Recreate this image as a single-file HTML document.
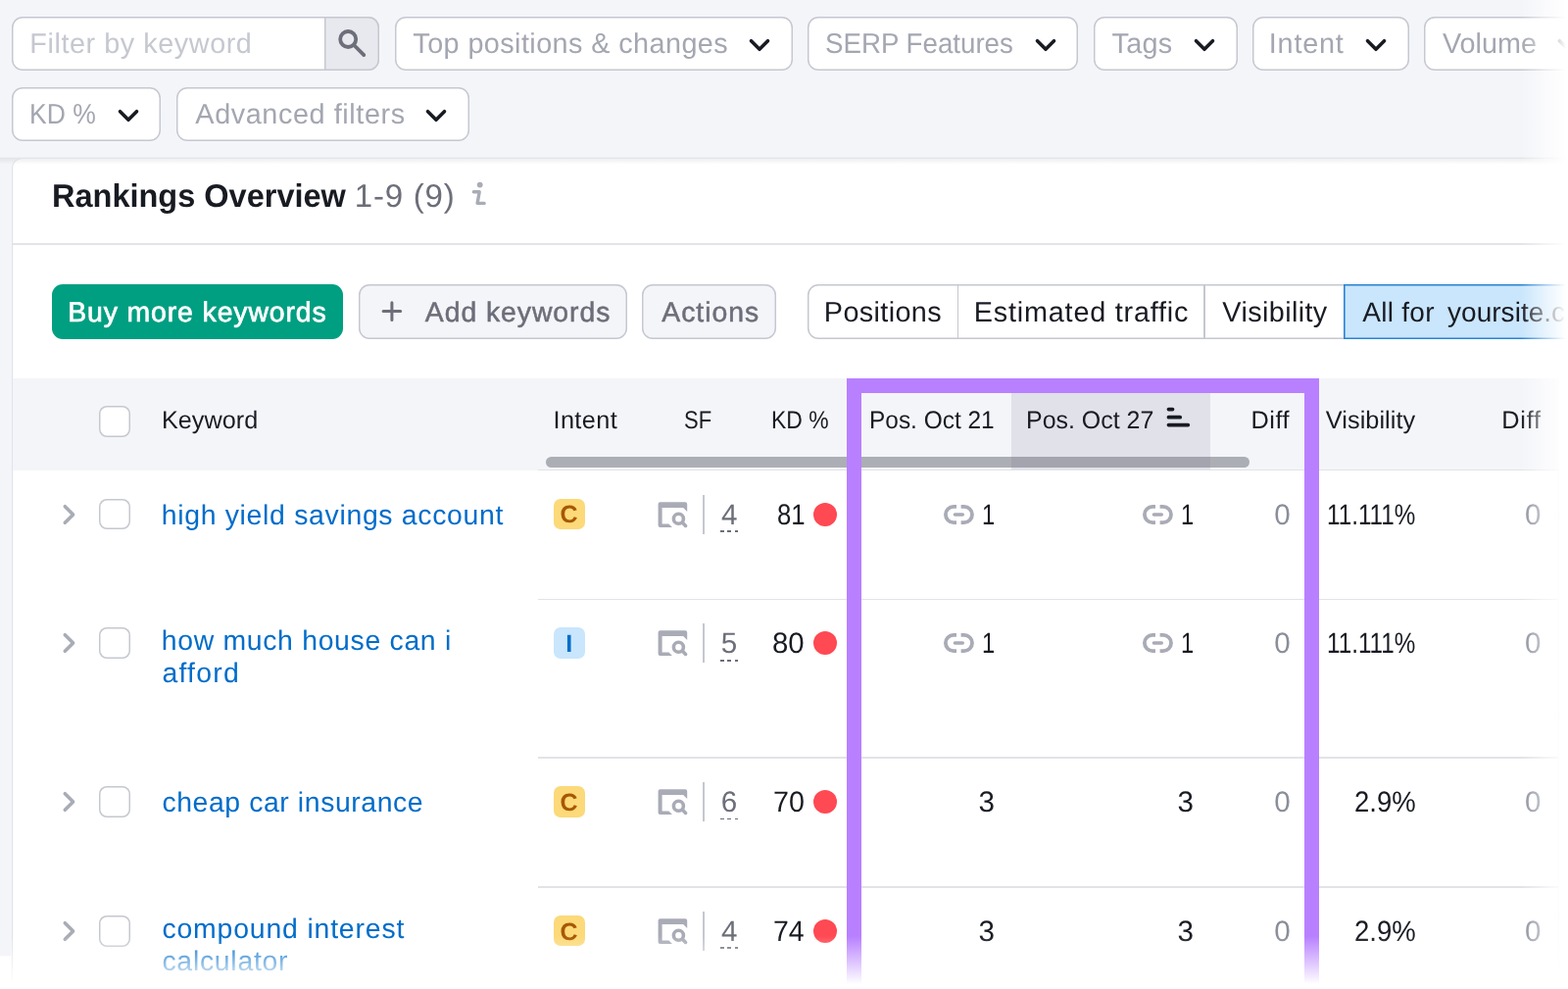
<!DOCTYPE html>
<html lang="en">
<head>
<meta charset="utf-8">
<title>Rankings Overview</title>
<style>
html,body{margin:0;padding:0;background:#fff;}
.app{position:relative;overflow:hidden;background:#f4f5f9;color:#191b23;font-family:"Liberation Sans",Arial,sans-serif;}
.a{position:absolute;box-sizing:border-box;}
h2{margin:0;font-weight:400;font-size:inherit;}
.t{position:absolute;line-height:1;white-space:pre;transform-origin:0 0;text-rendering:geometricPrecision;font-weight:400;}
.ic{position:absolute;overflow:visible;}
</style>
</head>
<body>
<div class="app" id="app" style="left:0px;top:0px;width:1600px;height:1009px;">
  <header class="filters">
    <div class="a search" style="left:12.3px;top:16.5px;width:374.3px;height:55.2px;background:#fff;border-radius:11px;box-shadow:inset 0 0 0 1.5px #c6c8d0;">
      <span class="t ph" style="left:18.05px;top:14.4px;font-size:28.8px;color:#c6c8d0;letter-spacing:0.556px;">Filter by keyword</span>
      <div class="a search-btn" style="left:318.9px;top:0px;width:55.4px;height:55.2px;background:#e8e9ee;border-radius:0 11px 11px 0;box-shadow:inset 0 0 0 1.5px #c6c8d0;">
        <svg class="ic " style="left:10.8px;top:10.5px" width="34" height="34" viewBox="342 27 34 34" aria-hidden="true"><circle cx="355.2" cy="40" r="8" stroke="#6c6e79" stroke-width="3.8" fill="none"/><path d="M361.2 46 L371.3 56.1" stroke="#6c6e79" stroke-width="3.8" stroke-linecap="round"/></svg>
      </div>
    </div>
    <div class="a filter" style="left:402.7px;top:16.5px;width:406.1px;height:55.2px;background:#fff;border-radius:11px;box-shadow:inset 0 0 0 1.5px #c6c8d0;">
      <span class="t" style="left:18.65px;top:14.4px;font-size:28.8px;color:#a4a6b1;letter-spacing:0.416px;">Top positions &amp; changes</span>
      <svg class="ic chev" style="left:361.6px;top:22.25px" width="22" height="15" viewBox="764.3 38.75 22 15" aria-hidden="true"><path d="M766.80 41.50 l8.5 8.5 l8.5 -8.5" stroke="#191b23" stroke-width="3.6" fill="none" stroke-linecap="round" stroke-linejoin="round"/></svg>
    </div>
    <div class="a filter" style="left:824.2px;top:16.5px;width:276.2px;height:55.2px;background:#fff;border-radius:11px;box-shadow:inset 0 0 0 1.5px #c6c8d0;">
      <span class="t" style="left:18.2px;top:14.4px;font-size:28.8px;color:#a4a6b1;transform:scaleX(0.9615);">SERP Features</span>
      <svg class="ic chev" style="left:231.7px;top:22.25px" width="22" height="15" viewBox="1055.9 38.75 22 15" aria-hidden="true"><path d="M1058.40 41.50 l8.5 8.5 l8.5 -8.5" stroke="#191b23" stroke-width="3.6" fill="none" stroke-linecap="round" stroke-linejoin="round"/></svg>
    </div>
    <div class="a filter" style="left:1115.5px;top:16.5px;width:147.1px;height:55.2px;background:#fff;border-radius:11px;box-shadow:inset 0 0 0 1.5px #c6c8d0;">
      <span class="t" style="left:19.1px;top:14.4px;font-size:28.8px;color:#a4a6b1;letter-spacing:0.250px;">Tags</span>
      <svg class="ic chev" style="left:102.6px;top:22.25px" width="22" height="15" viewBox="1218.1 38.75 22 15" aria-hidden="true"><path d="M1220.60 41.50 l8.5 8.5 l8.5 -8.5" stroke="#191b23" stroke-width="3.6" fill="none" stroke-linecap="round" stroke-linejoin="round"/></svg>
    </div>
    <div class="a filter" style="left:1277.7px;top:16.5px;width:160.1px;height:55.2px;background:#fff;border-radius:11px;box-shadow:inset 0 0 0 1.5px #c6c8d0;">
      <span class="t" style="left:17.15px;top:14.4px;font-size:28.8px;color:#a4a6b1;letter-spacing:0.780px;">Intent</span>
      <svg class="ic chev" style="left:115.6px;top:22.25px" width="22" height="15" viewBox="1393.3 38.75 22 15" aria-hidden="true"><path d="M1395.80 41.50 l8.5 8.5 l8.5 -8.5" stroke="#191b23" stroke-width="3.6" fill="none" stroke-linecap="round" stroke-linejoin="round"/></svg>
    </div>
    <div class="a filter" style="left:1453.2px;top:16.5px;width:180.1px;height:55.2px;background:#fff;border-radius:11px;box-shadow:inset 0 0 0 1.5px #c6c8d0;">
      <span class="t" style="left:19.15px;top:14.4px;font-size:28.8px;color:#a4a6b1;transform:scaleX(0.9989);">Volume</span>
      <svg class="ic chev" style="left:135.6px;top:22.25px" width="22" height="15" viewBox="1588.8 38.75 22 15" aria-hidden="true"><path d="M1591.30 41.50 l8.5 8.5 l8.5 -8.5" stroke="#191b23" stroke-width="3.6" fill="none" stroke-linecap="round" stroke-linejoin="round"/></svg>
    </div>
    <div class="a filter" style="left:12.2px;top:88.8px;width:152.2px;height:55.1px;background:#fff;border-radius:11px;box-shadow:inset 0 0 0 1.5px #c6c8d0;">
      <span class="t" style="left:17.58px;top:14.4px;font-size:28.8px;color:#a4a6b1;transform:scaleX(0.9203);">KD %</span>
      <svg class="ic chev" style="left:107.7px;top:22.2px" width="22" height="15" viewBox="119.9 111 22 15" aria-hidden="true"><path d="M122.40 113.75 l8.5 8.5 l8.5 -8.5" stroke="#191b23" stroke-width="3.6" fill="none" stroke-linecap="round" stroke-linejoin="round"/></svg>
    </div>
    <div class="a filter" style="left:179.9px;top:88.8px;width:298.9px;height:55.1px;background:#fff;border-radius:11px;box-shadow:inset 0 0 0 1.5px #c6c8d0;">
      <span class="t" style="left:19.45px;top:14.4px;font-size:28.8px;color:#a4a6b1;letter-spacing:0.593px;">Advanced filters</span>
      <svg class="ic chev" style="left:254.4px;top:22.2px" width="22" height="15" viewBox="434.3 111 22 15" aria-hidden="true"><path d="M436.80 113.75 l8.5 8.5 l8.5 -8.5" stroke="#191b23" stroke-width="3.6" fill="none" stroke-linecap="round" stroke-linejoin="round"/></svg>
    </div>
  </header>
  <main class="a panel" style="left:11.5px;top:162px;width:1628.5px;height:938px;background:#fff;box-shadow:inset 1.2px 0 0 #e2e3e9;border-top-left-radius:9px;">
    <div class="panel-head">
      <h2 class="a title" style="left:38.5px;top:18px;width:450px;height:45px;">
        <span class="t" style="left:3.08px;top:3.3px;font-size:33.0px;transform:scaleX(0.9849);font-weight:700;">Rankings Overview</span>
        <span class="t count" style="left:311.85px;top:3.3px;font-size:33.0px;color:#6c6e79;letter-spacing:0.775px;">1-9 (9)</span>
        <svg class="ic info" style="left:428px;top:2px" width="22" height="32" viewBox="478 182 22 32" aria-hidden="true"><circle cx="489.7" cy="188.6" r="2.9" fill="#a9abb6"/><path d="M483.4 195.7 H489.2 L487.1 207.4 H494.1" stroke="#a9abb6" stroke-width="3.4" fill="none" stroke-linecap="round" stroke-linejoin="round"/></svg>
      </h2>
      <div class="a rule" style="left:1px;top:86px;width:1587.5px;height:1.5px;background:#e3e4ea;"></div>
    </div>
    <div class="toolbar">
      <div class="a btn primary" style="left:41px;top:128px;width:297.5px;height:55.6px;background:#009f81;border-radius:11px;">
        <span class="t" style="left:16.65px;top:15px;font-size:28.4px;color:#fff;letter-spacing:0.894px;-webkit-text-stroke:0.7px #fff;">Buy more keywords</span>
      </div>
      <div class="a btn" style="left:354.3px;top:128px;width:274.5px;height:55.6px;background:#f4f5f9;border-radius:11px;box-shadow:inset 0 0 0 1.5px #c6c8d0;">
        <svg class="ic plus" style="left:20.2px;top:14px" width="27" height="27" viewBox="386 304 27 27" aria-hidden="true"><path d="M391.1 317.5 H408.7 M399.9 308.8 V326.4" stroke="#6c6e79" stroke-width="3" stroke-linecap="round"/></svg>
        <span class="t" style="left:68px;top:15px;font-size:28.4px;color:#6c6e79;letter-spacing:0.932px;-webkit-text-stroke:0.5px #6c6e79;">Add keywords</span>
      </div>
      <div class="a btn" style="left:643.8px;top:128px;width:137px;height:55.6px;background:#f4f5f9;border-radius:11px;box-shadow:inset 0 0 0 1.5px #c6c8d0;">
        <span class="t" style="left:20px;top:15px;font-size:28.4px;color:#6c6e79;letter-spacing:0.958px;-webkit-text-stroke:0.5px #6c6e79;">Actions</span>
      </div>
      <div class="a tabs" style="left:812px;top:128px;width:816.5px;height:55.6px;background:#fff;border-radius:11px;box-shadow:inset 0 0 0 1.5px #c6c8d0;">
        <div class="a tab" style="left:0px;top:0px;width:154px;height:55.6px;">
          <span class="t" style="left:17.35px;top:15.1px;font-size:28.8px;letter-spacing:0.362px;">Positions</span>
        </div>
        <div class="a sep" style="left:153.3px;top:0px;width:1.5px;height:55.6px;background:#c4c7cf;"></div>
        <div class="a tab" style="left:154px;top:0px;width:251.3px;height:55.6px;">
          <span class="t" style="left:16.35px;top:15.1px;font-size:28.8px;letter-spacing:0.791px;">Estimated traffic</span>
        </div>
        <div class="a sep" style="left:404.5px;top:0px;width:1.5px;height:55.6px;background:#c4c7cf;"></div>
        <div class="a tab" style="left:405.3px;top:0px;width:141.8px;height:55.6px;">
          <span class="t" style="left:18.55px;top:15.1px;font-size:28.8px;letter-spacing:0.378px;">Visibility</span>
        </div>
        <div class="a tab active" style="left:547.1px;top:-0.4px;width:269.4px;height:56.2px;background:#c9e6fc;box-shadow:inset 0 0 0 1.6px #2a82d2;">
          <span class="t" style="left:19.7px;top:15.6px;font-size:28.0px;letter-spacing:0.283px;">All for</span>
          <span class="t" style="left:106.45px;top:15.6px;font-size:28.0px;letter-spacing:0.029px;">yoursite.com</span>
        </div>
      </div>
    </div>
    <div class="table" role="table">
      <div class="a thead" role="row" style="left:1.5px;top:224px;width:1577px;height:94px;background:#f4f5f9;">
        <div class="a sorted" style="left:1019px;top:0px;width:202.5px;height:94px;background:#e0e1e9;"></div>
        <div class="a cb" style="left:88px;top:28.1px;width:31.6px;height:31.8px;background:#fff;border-radius:8px;box-shadow:inset 0 0 0 1.5px #c6c8d0;"></div>
        <span class="t th" style="left:151.71px;top:31.1px;font-size:25.3px;transform:scaleX(0.9974);">Keyword</span>
        <span class="t th" style="left:551.45px;top:31.1px;font-size:25.3px;letter-spacing:0.410px;">Intent</span>
        <span class="t th" style="left:684.81px;top:31.1px;font-size:25.3px;transform:scaleX(0.8700);">SF</span>
        <span class="t th" style="left:773.79px;top:31.1px;font-size:25.3px;transform:scaleX(0.9053);">KD %</span>
        <span class="t th" style="left:874.42px;top:31.1px;font-size:25.3px;transform:scaleX(0.9663);">Pos. Oct 21</span>
        <span class="t th" style="left:1034.38px;top:31.1px;font-size:25.3px;transform:scaleX(0.9857);">Pos. Oct 27</span>
        <span class="t th" style="left:1263.6px;top:31.1px;font-size:25.3px;letter-spacing:0.467px;">Diff</span>
        <span class="t th" style="left:1339.85px;top:31.1px;font-size:25.3px;letter-spacing:0.044px;">Visibility</span>
        <span class="t th" style="left:1519.35px;top:31.1px;font-size:25.3px;letter-spacing:0.717px;">Diff</span>
        <svg class="ic sort" style="left:1175px;top:27px" width="29" height="26" viewBox="1188 413 29 26" aria-hidden="true"><path d="M1192.5 417.6 H1196.5 M1192.5 425.7 H1204.2 M1192.5 433.6 H1212.3" stroke="#191b23" stroke-width="3.8" stroke-linecap="round"/></svg>
        <div class="a hscroll" style="left:543.5px;top:80.3px;width:718.5px;height:11.2px;background:rgba(113,114,125,0.55);border-radius:6px;"></div>
      </div>
      <div class="a line" style="left:537.5px;top:316.75px;width:1041px;height:1.5px;background:#e2e3e8;"></div>
      <div class="a tr" role="row" style="left:1.5px;top:318px;width:1577px;height:131.3px;">
        <svg class="ic expand" style="left:47px;top:32.6px" width="22" height="24" viewBox="60 512.6 22 24" aria-hidden="true"><path d="M66.30 516.30 l8.3 8.3 l-8.3 8.3" stroke="#a9abb6" stroke-width="3.6" fill="none" stroke-linecap="round" stroke-linejoin="round"/></svg>
        <div class="a cb" style="left:88px;top:28.7px;width:31.6px;height:31.8px;background:#fff;border-radius:8px;box-shadow:inset 0 0 0 1.5px #c6c8d0;"></div>
        <span class="t kw" style="left:151.7px;top:31.6px;font-size:28.4px;color:#006dca;letter-spacing:0.692px;">high yield savings account</span>
        <div class="a badge" style="left:552px;top:28.8px;width:31.5px;height:31.4px;background:#fcd979;border-radius:7px;">
          <span class="t" style="left:6.58px;top:4.7px;font-size:25px;color:#a75800;font-weight:700;">C</span>
        </div>
        <svg class="ic serp" style="left:655px;top:28.6px" width="38" height="32" viewBox="668 508.6 38 32" aria-hidden="true"><path d="M671.6 513.90 a2 2 0 0 1 2 -2 h25.6 a2 2 0 0 1 2 2 v7.6 l-4 -4 h-21.6 v16.6 h6.9 l3.4 3.6 h-12.3 a2 2 0 0 1 -2 -2 z" fill="#a9abb6"/><circle cx="692.4" cy="528.80" r="5" stroke="#a9abb6" stroke-width="3.6" fill="none"/><path d="M696.2 532.60 L699.6 536.00" stroke="#a9abb6" stroke-width="3.6" stroke-linecap="round"/></svg>
        <div class="a vsep" style="left:703.8px;top:24.8px;width:2px;height:39.8px;background:#c4c7cf;"></div>
        <span class="t sf" style="left:722.92px;top:30.6px;font-size:29.6px;color:#6c6e79;">4</span>
        <div class="a dash" style="left:722px;top:61px;width:18.2px;height:1.9px;background:repeating-linear-gradient(to right,#6c6e79 0,#6c6e79 3.8px,transparent 3.8px,transparent 7.3px);"></div>
        <span class="t kd" style="left:779.51px;top:30.6px;font-size:29.6px;transform:scaleX(0.8694);">81</span>
        <div class="a dot" style="left:817px;top:32.5px;width:24.2px;height:24.2px;background:#ff4953;border-radius:50%;"></div>
        <svg class="ic link" style="left:947.9px;top:32.5px" width="36" height="24" viewBox="960.9 512.5 36 24" aria-hidden="true"><path d="M975.90 516.40 h-3 a8.10 8.10 0 0 0 0 16.20 h3 M980.50 516.40 h3.3 a8.10 8.10 0 0 1 0 16.20 h-3.3" stroke="#a9abb6" stroke-width="3.8" fill="none"/><path d="M974.35 524.50 h7.8" stroke="#a9abb6" stroke-width="3.5999999999999996" stroke-linecap="round"/></svg>
        <span class="t" style="left:988.6px;top:30.6px;font-size:29.6px;transform:scaleX(0.8000);">1</span>
        <svg class="ic link" style="left:1150.6px;top:32.5px" width="36" height="24" viewBox="1163.6 512.5 36 24" aria-hidden="true"><path d="M1178.60 516.40 h-3 a8.10 8.10 0 0 0 0 16.20 h3 M1183.20 516.40 h3.3 a8.10 8.10 0 0 1 0 16.20 h-3.3" stroke="#a9abb6" stroke-width="3.8" fill="none"/><path d="M1177.05 524.50 h7.8" stroke="#a9abb6" stroke-width="3.5999999999999996" stroke-linecap="round"/></svg>
        <span class="t" style="left:1191.7px;top:30.6px;font-size:29.6px;transform:scaleX(0.8000);">1</span>
        <span class="t" style="left:1287.17px;top:30.6px;font-size:29.6px;color:#8a8e9b;">0</span>
        <span class="t" style="left:1340.76px;top:30.6px;font-size:29.6px;transform:scaleX(0.8192);">11.111%</span>
        <span class="t" style="left:1542.92px;top:30.6px;font-size:29.6px;color:#8a8e9b;">0</span>
      </div>
      <div class="a line" style="left:537.5px;top:448.55px;width:1041px;height:1.5px;background:#e2e3e8;"></div>
      <div class="a tr" role="row" style="left:1.5px;top:449.3px;width:1577px;height:161.7px;">
        <svg class="ic expand" style="left:47px;top:32.95px" width="22" height="24" viewBox="60 644.25 22 24" aria-hidden="true"><path d="M66.30 647.95 l8.3 8.3 l-8.3 8.3" stroke="#a9abb6" stroke-width="3.6" fill="none" stroke-linecap="round" stroke-linejoin="round"/></svg>
        <div class="a cb" style="left:88px;top:29.05px;width:31.6px;height:31.8px;background:#fff;border-radius:8px;box-shadow:inset 0 0 0 1.5px #c6c8d0;"></div>
        <span class="t kw" style="left:151.7px;top:28.75px;font-size:28.4px;color:#006dca;letter-spacing:0.687px;">how much house can i</span>
        <span class="t kw" style="left:152.45px;top:62.15px;font-size:28.4px;color:#006dca;letter-spacing:1.260px;">afford</span>
        <div class="a badge" style="left:552px;top:29.15px;width:31.5px;height:31.4px;background:#c9e6fc;border-radius:7px;">
          <span class="t" style="left:12.15px;top:4.7px;font-size:25px;color:#006dca;font-weight:700;">I</span>
        </div>
        <svg class="ic serp" style="left:655px;top:28.95px" width="38" height="32" viewBox="668 640.25 38 32" aria-hidden="true"><path d="M671.6 645.55 a2 2 0 0 1 2 -2 h25.6 a2 2 0 0 1 2 2 v7.6 l-4 -4 h-21.6 v16.6 h6.9 l3.4 3.6 h-12.3 a2 2 0 0 1 -2 -2 z" fill="#a9abb6"/><circle cx="692.4" cy="660.45" r="5" stroke="#a9abb6" stroke-width="3.6" fill="none"/><path d="M696.2 664.25 L699.6 667.65" stroke="#a9abb6" stroke-width="3.6" stroke-linecap="round"/></svg>
        <div class="a vsep" style="left:703.8px;top:25.15px;width:2px;height:39.8px;background:#c4c7cf;"></div>
        <span class="t sf" style="left:722.8px;top:30.95px;font-size:29.6px;color:#6c6e79;">5</span>
        <div class="a dash" style="left:722px;top:61.35px;width:18.2px;height:1.9px;background:repeating-linear-gradient(to right,#6c6e79 0,#6c6e79 3.8px,transparent 3.8px,transparent 7.3px);"></div>
        <span class="t kd" style="left:775.36px;top:30.95px;font-size:29.6px;transform:scaleX(0.9934);">80</span>
        <div class="a dot" style="left:817px;top:32.85px;width:24.2px;height:24.2px;background:#ff4953;border-radius:50%;"></div>
        <svg class="ic link" style="left:947.9px;top:32.85px" width="36" height="24" viewBox="960.9 644.15 36 24" aria-hidden="true"><path d="M975.90 648.05 h-3 a8.10 8.10 0 0 0 0 16.20 h3 M980.50 648.05 h3.3 a8.10 8.10 0 0 1 0 16.20 h-3.3" stroke="#a9abb6" stroke-width="3.8" fill="none"/><path d="M974.35 656.15 h7.8" stroke="#a9abb6" stroke-width="3.5999999999999996" stroke-linecap="round"/></svg>
        <span class="t" style="left:988.6px;top:30.95px;font-size:29.6px;transform:scaleX(0.8000);">1</span>
        <svg class="ic link" style="left:1150.6px;top:32.85px" width="36" height="24" viewBox="1163.6 644.15 36 24" aria-hidden="true"><path d="M1178.60 648.05 h-3 a8.10 8.10 0 0 0 0 16.20 h3 M1183.20 648.05 h3.3 a8.10 8.10 0 0 1 0 16.20 h-3.3" stroke="#a9abb6" stroke-width="3.8" fill="none"/><path d="M1177.05 656.15 h7.8" stroke="#a9abb6" stroke-width="3.5999999999999996" stroke-linecap="round"/></svg>
        <span class="t" style="left:1191.7px;top:30.95px;font-size:29.6px;transform:scaleX(0.8000);">1</span>
        <span class="t" style="left:1287.17px;top:30.95px;font-size:29.6px;color:#8a8e9b;">0</span>
        <span class="t" style="left:1340.76px;top:30.95px;font-size:29.6px;transform:scaleX(0.8192);">11.111%</span>
        <span class="t" style="left:1542.92px;top:30.95px;font-size:29.6px;color:#8a8e9b;">0</span>
      </div>
      <div class="a line" style="left:537.5px;top:610.25px;width:1041px;height:1.5px;background:#e2e3e8;"></div>
      <div class="a tr" role="row" style="left:1.5px;top:611px;width:1577px;height:132px;">
        <svg class="ic expand" style="left:47px;top:33.1px" width="22" height="24" viewBox="60 806.1 22 24" aria-hidden="true"><path d="M66.30 809.80 l8.3 8.3 l-8.3 8.3" stroke="#a9abb6" stroke-width="3.6" fill="none" stroke-linecap="round" stroke-linejoin="round"/></svg>
        <div class="a cb" style="left:88px;top:29.2px;width:31.6px;height:31.8px;background:#fff;border-radius:8px;box-shadow:inset 0 0 0 1.5px #c6c8d0;"></div>
        <span class="t kw" style="left:152.45px;top:32.1px;font-size:28.4px;color:#006dca;letter-spacing:0.586px;">cheap car insurance</span>
        <div class="a badge" style="left:552px;top:29.3px;width:31.5px;height:31.4px;background:#fcd979;border-radius:7px;">
          <span class="t" style="left:6.58px;top:4.7px;font-size:25px;color:#a75800;font-weight:700;">C</span>
        </div>
        <svg class="ic serp" style="left:655px;top:29.1px" width="38" height="32" viewBox="668 802.1 38 32" aria-hidden="true"><path d="M671.6 807.40 a2 2 0 0 1 2 -2 h25.6 a2 2 0 0 1 2 2 v7.6 l-4 -4 h-21.6 v16.6 h6.9 l3.4 3.6 h-12.3 a2 2 0 0 1 -2 -2 z" fill="#a9abb6"/><circle cx="692.4" cy="822.30" r="5" stroke="#a9abb6" stroke-width="3.6" fill="none"/><path d="M696.2 826.10 L699.6 829.50" stroke="#a9abb6" stroke-width="3.6" stroke-linecap="round"/></svg>
        <div class="a vsep" style="left:703.8px;top:25.3px;width:2px;height:39.8px;background:#c4c7cf;"></div>
        <span class="t sf" style="left:722.67px;top:31.1px;font-size:29.6px;color:#6c6e79;">6</span>
        <div class="a dash" style="left:722px;top:61.5px;width:18.2px;height:1.9px;background:repeating-linear-gradient(to right,#6c6e79 0,#6c6e79 3.8px,transparent 3.8px,transparent 7.3px);"></div>
        <span class="t kd" style="left:776.15px;top:31.1px;font-size:29.6px;transform:scaleX(0.9686);">70</span>
        <div class="a dot" style="left:817px;top:33px;width:24.2px;height:24.2px;background:#ff4953;border-radius:50%;"></div>
        <span class="t" style="left:985.42px;top:31.1px;font-size:29.6px;">3</span>
        <span class="t" style="left:1188.55px;top:31.1px;font-size:29.6px;">3</span>
        <span class="t" style="left:1287.17px;top:31.1px;font-size:29.6px;color:#8a8e9b;">0</span>
        <span class="t" style="left:1368.51px;top:31.1px;font-size:29.6px;transform:scaleX(0.9285);">2.9%</span>
        <span class="t" style="left:1542.92px;top:31.1px;font-size:29.6px;color:#8a8e9b;">0</span>
      </div>
      <div class="a line" style="left:537.5px;top:742.25px;width:1041px;height:1.5px;background:#e2e3e8;"></div>
      <div class="a tr" role="row" style="left:1.5px;top:743px;width:1577px;height:155px;">
        <svg class="ic expand" style="left:47px;top:32.75px" width="22" height="24" viewBox="60 937.75 22 24" aria-hidden="true"><path d="M66.30 941.45 l8.3 8.3 l-8.3 8.3" stroke="#a9abb6" stroke-width="3.6" fill="none" stroke-linecap="round" stroke-linejoin="round"/></svg>
        <div class="a cb" style="left:88px;top:28.85px;width:31.6px;height:31.8px;background:#fff;border-radius:8px;box-shadow:inset 0 0 0 1.5px #c6c8d0;"></div>
        <span class="t kw" style="left:152.45px;top:28.55px;font-size:28.4px;color:#006dca;letter-spacing:0.831px;">compound interest</span>
        <span class="t kw" style="left:152.45px;top:61.95px;font-size:28.4px;color:#006dca;letter-spacing:0.728px;">calculator</span>
        <div class="a badge" style="left:552px;top:28.95px;width:31.5px;height:31.4px;background:#fcd979;border-radius:7px;">
          <span class="t" style="left:6.58px;top:4.7px;font-size:25px;color:#a75800;font-weight:700;">C</span>
        </div>
        <svg class="ic serp" style="left:655px;top:28.75px" width="38" height="32" viewBox="668 933.75 38 32" aria-hidden="true"><path d="M671.6 939.05 a2 2 0 0 1 2 -2 h25.6 a2 2 0 0 1 2 2 v7.6 l-4 -4 h-21.6 v16.6 h6.9 l3.4 3.6 h-12.3 a2 2 0 0 1 -2 -2 z" fill="#a9abb6"/><circle cx="692.4" cy="953.95" r="5" stroke="#a9abb6" stroke-width="3.6" fill="none"/><path d="M696.2 957.75 L699.6 961.15" stroke="#a9abb6" stroke-width="3.6" stroke-linecap="round"/></svg>
        <div class="a vsep" style="left:703.8px;top:24.95px;width:2px;height:39.8px;background:#c4c7cf;"></div>
        <span class="t sf" style="left:722.92px;top:30.75px;font-size:29.6px;color:#6c6e79;">4</span>
        <div class="a dash" style="left:722px;top:61.15px;width:18.2px;height:1.9px;background:repeating-linear-gradient(to right,#6c6e79 0,#6c6e79 3.8px,transparent 3.8px,transparent 7.3px);"></div>
        <span class="t kd" style="left:776.16px;top:30.75px;font-size:29.6px;transform:scaleX(0.9607);">74</span>
        <div class="a dot" style="left:817px;top:32.65px;width:24.2px;height:24.2px;background:#ff4953;border-radius:50%;"></div>
        <span class="t" style="left:985.42px;top:30.75px;font-size:29.6px;">3</span>
        <span class="t" style="left:1188.55px;top:30.75px;font-size:29.6px;">3</span>
        <span class="t" style="left:1287.17px;top:30.75px;font-size:29.6px;color:#8a8e9b;">0</span>
        <span class="t" style="left:1368.51px;top:30.75px;font-size:29.6px;transform:scaleX(0.9285);">2.9%</span>
        <span class="t" style="left:1542.92px;top:30.75px;font-size:29.6px;color:#8a8e9b;">0</span>
      </div>
      <div class="a edge" style="left:1578px;top:224px;width:1px;height:623px;background:#eeeff3;"></div>
    </div>
  </main>
  <div class="a bar-shadow" style="left:0px;top:159.5px;width:1600px;height:8px;background:linear-gradient(to bottom,rgba(25,27,35,0) 0,rgba(25,27,35,0.075) 1.5px,rgba(25,27,35,0.05) 3.5px,rgba(25,27,35,0) 8px);"></div>
  <div class="a hl" style="left:864.25px;top:386.25px;width:481.5px;height:700px;border:15px solid #b880ff;border-bottom:none;box-sizing:border-box;"></div>
  <div class="a fade-r" style="left:1552px;top:0px;width:48px;height:1009px;background:linear-gradient(to right,rgba(255,255,255,0),rgba(255,255,255,0.5) 22px,#fff 46px,#fff);"></div>
  <div class="a fade-b" style="left:0px;top:955px;width:1600px;height:54px;background:linear-gradient(to bottom,rgba(255,255,255,0),rgba(255,255,255,0.5) 25px,#fff 49px,#fff);"></div>
  <div class="a gutter-end" style="left:0px;top:955px;width:11.3px;height:54px;background:linear-gradient(to bottom,#f4f5f9 19.5px,#fff 21px);"></div>
</div>
</body>
</html>
